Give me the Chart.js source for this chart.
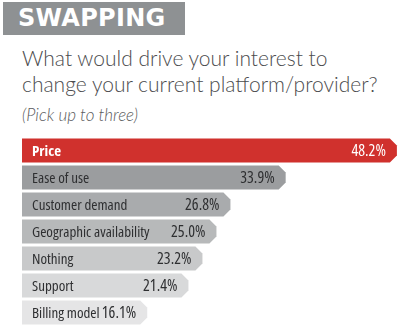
<!DOCTYPE html>
<html>
<head>
<meta charset="utf-8">
<script src="https://cdn.jsdelivr.net/npm/chart.js@4/dist/chart.umd.min.js"></script>
<style>
  html, body { margin: 0; padding: 0; background: #fff; }
  #wrap { position: relative; width: 400px; height: 332px; overflow: hidden; }
  #tag {
    position: absolute; left: 3px; top: 2px; width: 182px; height: 33px;
    background: #8e9193; color: #fff;
    font: bold 24px "DejaVu Sans", sans-serif; line-height: 33px;
    padding-left: 15px; box-sizing: border-box; letter-spacing: 0.3px;
  }
  #title {
    position: absolute; left: 22px; top: 45px; width: 378px;
    font: 300 21px Lato, "Open Sans", sans-serif; line-height: 26px; color: #4b4c4e;
  }
  #sub {
    position: absolute; left: 22px; top: 104px;
    font: italic 300 17px Lato, "Open Sans", sans-serif; color: #5a5b5d;
  }
  #box { position: absolute; left: 0; top: 130px; width: 400px; height: 202px; }
</style>
</head>
<body>
<div id="wrap">
  <div id="tag">SWAPPING</div>
  <div id="title">What would drive your interest to<br>change your current platform/provider?</div>
  <div id="sub">(Pick up to three)</div>
  <div id="box"><canvas id="chart"></canvas></div>
</div>
<script>
const categories = ["Price", "Ease of use", "Customer demand", "Geographic availability", "Nothing", "Support", "Billing model"];
const shares = [48.2, 33.9, 26.8, 25.0, 23.2, 21.4, 16.1];

const barColors = ["#d0312d", "#9b9d9f", "#a9abad", "#b7b9ba", "#c8c9ca", "#d8d9da", "#e5e5e6"];
const labelFont = '"Open Sans", sans-serif';

// bars are drawn by hand so the right end can have the clipped-corner tip
const tabBars = {
  id: "tabBars",
  afterDatasetsDraw(chart) {
    const ctx = chart.ctx;
    const meta = chart.getDatasetMeta(0);
    meta.data.forEach((bar, i) => {
      const { x, y, base, height } = bar.getProps(["x", "y", "base", "height"], true);
      const top = y - height / 2;
      const bottom = y + height / 2;
      const c = Math.min(7, height / 2);

      ctx.save();
      ctx.beginPath();
      ctx.moveTo(base, top);
      ctx.lineTo(x - c, top);
      ctx.lineTo(x, top + c);
      ctx.lineTo(x, bottom - c);
      ctx.lineTo(x - c, bottom);
      ctx.lineTo(base, bottom);
      ctx.closePath();
      ctx.fillStyle = barColors[i];
      ctx.fill();

      const first = i === 0;
      ctx.fillStyle = first ? "#fff" : "#2e2f31";
      ctx.textBaseline = "middle";
      ctx.textAlign = "left";
      ctx.font = (first ? "bold " : "") + "condensed 15px " + labelFont;
      ctx.fillText(categories[i], base + 10, y + 1);

      ctx.textAlign = "right";
      ctx.font = "condensed 16px " + labelFont;
      ctx.fillText(shares[i].toFixed(1) + "%", x - 11, y + 1);
      ctx.restore();
    });
  },
};

new Chart(document.getElementById("chart"), {
  type: "bar",
  data: {
    labels: categories,
    datasets: [{
      data: shares,
      backgroundColor: "rgba(0,0,0,0)",
      barPercentage: 0.89,
      categoryPercentage: 1,
    }],
  },
  options: {
    indexAxis: "y",
    responsive: true,
    maintainAspectRatio: false,
    animation: false,
    events: [],
    layout: { padding: { left: 22, right: 0, top: 7, bottom: 6 } },
    scales: {
      x: { display: false, min: 0, max: 48.6 },
      y: { display: false },
    },
    plugins: { legend: { display: false }, tooltip: { enabled: false } },
  },
  plugins: [tabBars],
});
</script>
</body>
</html>
